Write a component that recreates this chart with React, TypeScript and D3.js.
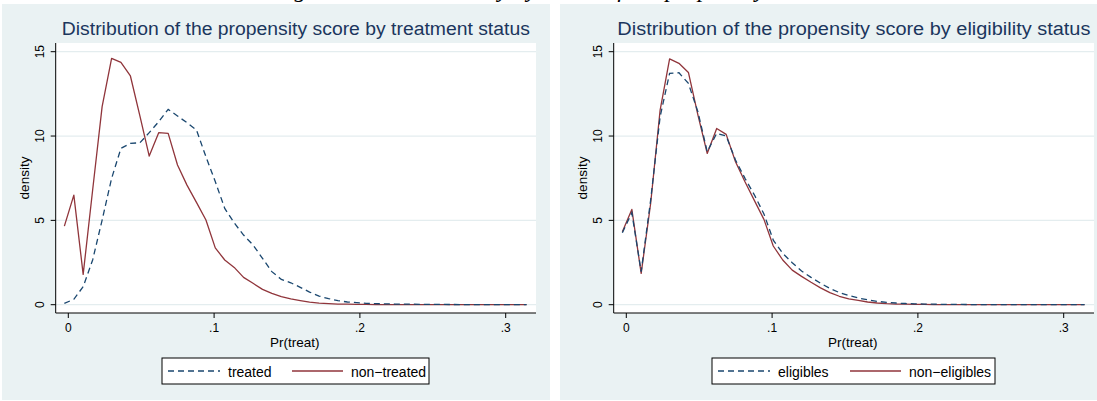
import React from 'react';
import * as d3 from 'd3';

// kdensity evaluation grid (50 points)
const gridX = [
  -0.0027, 0.0038, 0.0102, 0.0167, 0.0232, 0.0297, 0.0361, 0.0426, 0.0491, 0.0555,
  0.062, 0.0685, 0.0749, 0.0814, 0.0879, 0.0944, 0.1008, 0.1073, 0.1138, 0.1202,
  0.1267, 0.1332, 0.1396, 0.1461, 0.1526, 0.1591, 0.1655, 0.172, 0.1785, 0.1849,
  0.1914, 0.1979, 0.2043, 0.2108, 0.2173, 0.2238, 0.2302, 0.2367, 0.2432, 0.2496,
  0.2561, 0.2626, 0.269, 0.2755, 0.282, 0.2885, 0.2949, 0.3014, 0.3079, 0.3143,
];

const treated = [
  0.08, 0.32, 1.07, 2.65, 5.02, 7.49, 9.27, 9.57, 9.6, 10.2,
  10.85, 11.58, 11.19, 10.79, 10.36, 8.77, 7.3, 5.71, 4.85, 4.13,
  3.54, 2.75, 1.96, 1.5, 1.3, 1.03, 0.75, 0.51, 0.36, 0.24,
  0.16, 0.12, 0.08, 0.06, 0.05, 0.04, 0.03, 0.03, 0.02, 0.02,
  0.015, 0.012, 0.01, 0.008, 0.006, 0.005, 0.004, 0.003, 0.002, 0.002,
];

const nonTreated = [
  4.66, 6.5, 1.8, 6.8, 11.74, 14.6, 14.37, 13.56, 11.19, 8.81,
  10.2, 10.16, 8.28, 7.09, 6.07, 5.02, 3.37, 2.65, 2.21, 1.62,
  1.27, 0.91, 0.67, 0.48, 0.34, 0.24, 0.15, 0.09, 0.06, 0.04,
  0.03, 0.02, 0.02, 0.01, 0.01, 0.01, 0.01, 0.005, 0.005, 0.005,
  0.004, 0.003, 0.003, 0.002, 0.002, 0.002, 0.001, 0.001, 0.001, 0.001,
];

const eligibles = [
  4.27, 5.45, 1.96, 6.2, 11.15, 13.72, 13.75, 13.12, 11.44, 9.07,
  10.16, 10.0, 8.58, 7.49, 6.5, 5.38, 3.83, 3.04, 2.49, 2.0,
  1.62, 1.27, 0.97, 0.72, 0.54, 0.4, 0.29, 0.2, 0.14, 0.1,
  0.07, 0.05, 0.04, 0.03, 0.02, 0.02, 0.015, 0.01, 0.01, 0.008,
  0.006, 0.005, 0.004, 0.003, 0.003, 0.002, 0.002, 0.001, 0.001, 0.001,
];

const nonEligibles = [
  4.33, 5.65, 1.86, 6.0, 11.54, 14.57, 14.31, 13.77, 11.25, 8.97,
  10.45, 10.1, 8.48, 7.29, 6.17, 5.06, 3.48, 2.65, 2.05, 1.68,
  1.33, 1.0, 0.72, 0.5, 0.35, 0.25, 0.16, 0.1, 0.06, 0.04,
  0.03, 0.02, 0.02, 0.01, 0.01, 0.01, 0.01, 0.005, 0.005, 0.005,
  0.004, 0.003, 0.003, 0.002, 0.002, 0.002, 0.001, 0.001, 0.001, 0.001,
];

const xTicks = [0, 0.1, 0.2, 0.3];
const xTickLabels = ['0', '.1', '.2', '.3'];
const yTicks = [0, 5, 10, 15];

const panelTitles = [
  'Distribution of the propensity score by treatment status',
  'Distribution of the propensity score by eligibility status',
];
const legendLabels = [
  ['treated', 'non\u2212treated'],
  ['eligibles', 'non\u2212eligibles'],
];
const panelSeries = [
  [treated, nonTreated],
  [eligibles, nonEligibles],
];

const NAVY = '#1a476f';
const MAROON = '#90353b';
const BG = '#eaf2f3';
const FONT = '"Liberation Sans", Arial, sans-serif';

// layout for each panel (in panel-local coordinates, panel 2 is shifted)
const layouts = [
  { dx: 0, bgW: 548, titleLen: 468, legendX: 162, legendW: 267, s1: 168, t1: 228 },
  { dx: 558, bgW: 560, titleLen: 473, legendX: 154, legendW: 283, s1: 160, t1: 220 },
];

const Panel: React.FC<{ idx: number }> = ({ idx }) => {
  const L = layouts[idx];
  const [dashed, solid] = panelSeries[idx];
  const plot = { x0: 55.7, x1: 536, y0: 43, y1: 313 };

  const x = d3.scaleLinear().domain([0, 0.3]).range([68.3, 505.7]);
  const y = d3.scaleLinear().domain([0, 15]).range([304.7, 51.7]);

  const line = d3
    .line<number>()
    .x((_, i) => x(gridX[i]))
    .y((d) => y(d));

  const cx = (plot.x0 + plot.x1) / 2;

  return (
    <g transform={`translate(${L.dx},0)`}>
      <rect x={2} y={4} width={L.bgW} height={396} fill={BG} />
      <rect x={plot.x0} y={plot.y0} width={plot.x1 - plot.x0} height={plot.y1 - plot.y0} fill="#fff" />

      <text
        x={cx}
        y={35}
        textAnchor="middle"
        fontFamily={FONT}
        fontSize={18}
        fill="#1b365d"
        textLength={L.titleLen}
        lengthAdjust="spacingAndGlyphs"
      >
        {panelTitles[idx]}
      </text>

      {/* grid */}
      {yTicks.map((t) => (
        <line key={`g${t}`} x1={plot.x0} x2={plot.x1} y1={y(t)} y2={y(t)} stroke="#e4edef" strokeWidth={1.2} />
      ))}

      {/* series */}
      <path d={line(solid) || ''} fill="none" stroke={MAROON} strokeWidth={1.3} strokeLinejoin="round" />
      <path d={line(dashed) || ''} fill="none" stroke={NAVY} strokeWidth={1.3} strokeDasharray="6,4" />

      {/* axes */}
      <line x1={plot.x0} x2={plot.x0} y1={plot.y0} y2={plot.y1} stroke="#000" strokeWidth={1} />
      <line x1={plot.x0} x2={plot.x1} y1={plot.y1} y2={plot.y1} stroke="#000" strokeWidth={1} />

      {yTicks.map((t) => (
        <g key={`y${t}`}>
          <line x1={plot.x0 - 5} x2={plot.x0} y1={y(t)} y2={y(t)} stroke="#000" />
          <text
            transform={`translate(44,${y(t)}) rotate(-90)`}
            textAnchor="middle"
            fontFamily={FONT}
            fontSize={12}
            fill="#000"
          >
            {t}
          </text>
        </g>
      ))}
      <text
        transform={`translate(29,${(plot.y0 + plot.y1) / 2}) rotate(-90)`}
        textAnchor="middle"
        fontFamily={FONT}
        fontSize={13.5}
        fill="#000"
      >
        density
      </text>

      {xTicks.map((t, i) => (
        <g key={`x${t}`}>
          <line x1={x(t)} x2={x(t)} y1={plot.y1} y2={plot.y1 + 5} stroke="#000" />
          <text x={x(t)} y={332} textAnchor="middle" fontFamily={FONT} fontSize={12} fill="#000">
            {xTickLabels[i]}
          </text>
        </g>
      ))}
      <text x={cx - 1} y={347} textAnchor="middle" fontFamily={FONT} fontSize={13.5} fill="#000">
        Pr(treat)
      </text>

      {/* legend */}
      <rect x={L.legendX} y={358} width={L.legendW} height={26} fill="#fff" stroke="#000" strokeWidth={1} />
      <line x1={L.s1} x2={L.s1 + 52} y1={371} y2={371} stroke={NAVY} strokeWidth={1.3} strokeDasharray="6,4" />
      <text x={L.t1} y={376.5} fontFamily={FONT} fontSize={14} fill="#000">
        {legendLabels[idx][0]}
      </text>
      <line x1={292} x2={343} y1={371} y2={371} stroke={MAROON} strokeWidth={1.3} />
      <text x={351} y={376.5} fontFamily={FONT} fontSize={14} fill="#000">
        {legendLabels[idx][1]}
      </text>
    </g>
  );
};

export default function App() {
  return (
    <svg
      width={1097}
      height={401}
      style={{ position: 'absolute', left: 0, top: 0, background: '#fff' }}
    >
      {/* caption of the document page, mostly cut off above the picture */}
      <text
        x={548}
        y={-3}
        textAnchor="middle"
        fontFamily='"Liberation Serif", serif'
        fontStyle="italic"
        fontSize={24}
        fill="#000"
      >
        Figure 3: Kernel density by status of the propensity score
      </text>
      <Panel idx={0} />
      <Panel idx={1} />
    </svg>
  );
}
